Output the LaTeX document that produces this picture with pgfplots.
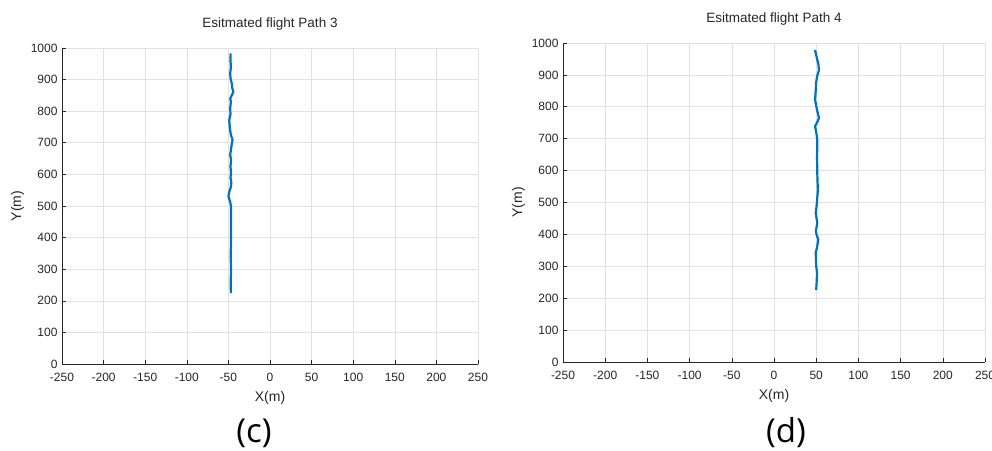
\documentclass[border=0pt]{standalone}
\usepackage{fontspec}
\setmainfont{Liberation Sans}
\newfontfamily\capfont{Open Sans}
\usepackage{pgfplots}
\pgfplotsset{compat=1.18}
\definecolor{mblue}{RGB}{0,114,189}
\definecolor{mgray}{RGB}{38,38,38}
\definecolor{mgrid}{RGB}{225,225,225}
\pgfplotsset{myax/.style={
  scale only axis,
  xmin=-250, xmax=250, ymin=0, ymax=1000,
  xtick={-250,-200,...,250},
  ytick={0,100,...,1000},
  axis x line*=bottom, axis y line*=left,
  x axis line style={-}, y axis line style={-},
  axis line style={mgray, line width=0.6pt},
  grid=major,
  major grid style={mgrid, line width=0.6pt},
  tick align=inside, major tick length=4pt,
  tick style={mgray, line width=0.6pt},
  /pgf/number format/assume math mode=true,
  /pgf/number format/1000 sep={},
  ticklabel style={font=\fontsize{12}{14}\selectfont, text=mgray},
  xticklabel style={yshift=-6pt},
  yticklabel style={xshift=-1pt},
  label style={font=\fontsize{14}{16}\selectfont, text=mgray},
  xlabel={X(m)}, ylabel={Y(m)},
  xlabel style={yshift=-2pt},
  ylabel style={yshift=0pt},
  title style={font=\fontsize{13.5}{15}\selectfont, text=mgray, at={(0.5,1)}, anchor=south, yshift=8pt},
}}
\begin{document}
\begin{tikzpicture}
\useasboundingbox (0,0) rectangle (992pt,450pt);
\begin{axis}[myax, at={(62pt,86pt)}, anchor=south west, width=416pt, height=316pt,
  title={Esitmated flight Path 3}]
\addplot[mblue, line width=2.2pt, line join=round] coordinates {
(-47,224) (-47.2,260) (-46.8,300) (-47.3,340) (-46.9,380) (-47,420) (-46.8,460) (-47,500) (-48,515) (-50,530) (-49,545) (-47,560) (-46.5,575) (-47.5,590) (-46.8,603) (-47.5,625) (-46.8,645) (-47.8,662) (-47,677) (-46,695) (-45,709) (-47,725) (-48.2,745) (-49,772) (-47.5,790) (-47.8,810) (-47,830) (-47.8,840) (-46,850) (-44,861) (-45.5,875) (-46,888) (-47.5,905) (-47.8,920) (-47,940) (-47.5,960) (-47.3,983)
};
\end{axis}
\begin{axis}[myax, at={(563pt,88pt)}, anchor=south west, width=422pt, height=319pt,
  title={Esitmated flight Path 4}]
\addplot[mblue, line width=2.2pt, line join=round] coordinates {
(50,226) (50.5,250) (51,279) (50,300) (49.4,342) (51,360) (52.5,384) (50.5,398) (49.6,410) (51.3,436) (49.4,467) (50.5,490) (52,540) (51.5,570) (51.3,592) (51,640) (51.3,697) (50,720) (48.6,739) (51,750) (53.3,765) (51,790) (48.6,822) (49.4,850) (49.8,874) (51,895) (53.3,915) (52.5,935) (51.3,947) (50,962) (48.6,978)
};
\end{axis}
\node[font=\capfont\fontsize{33}{36}\selectfont] at (254pt,17pt) {(c)};
\node[font=\capfont\fontsize{33}{36}\selectfont] at (786pt,17pt) {(d)};
\end{tikzpicture}
\end{document}
